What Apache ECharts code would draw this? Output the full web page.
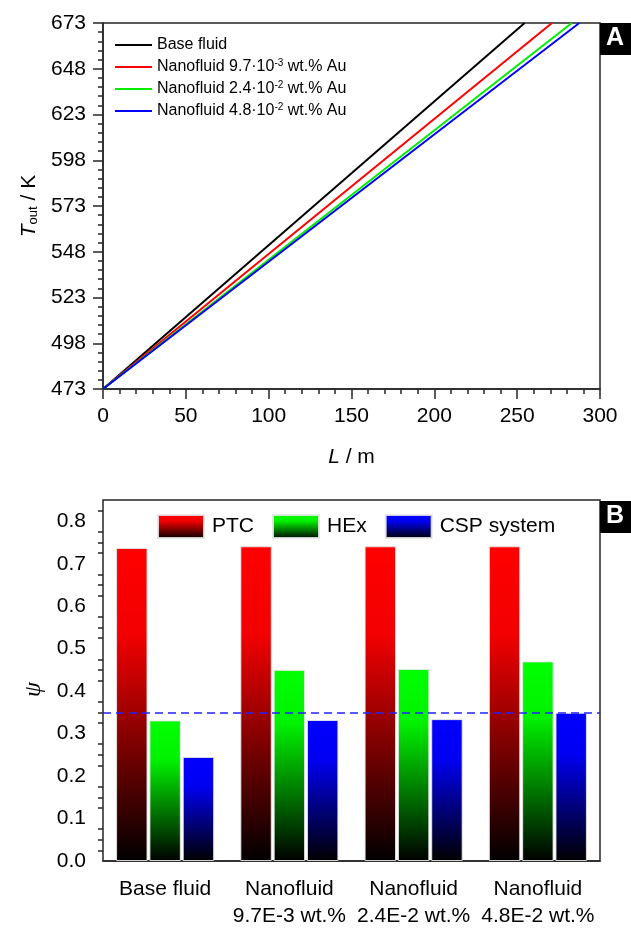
<!DOCTYPE html>
<html>
<head>
<meta charset="utf-8">
<script src="https://cdn.jsdelivr.net/npm/echarts@6/dist/echarts.min.js"></script>
<style>html,body{margin:0;padding:0;background:#fff;}#c{width:631px;height:930px;}</style>
</head>
<body>
<div id="c"></div>
<script>
// ---- Panel A data: outlet temperature vs length (straight lines, endpoints)
const lineNames = ['Base fluid', 'Nanofluid 9.7·10{sup|-3} wt.% Au', 'Nanofluid 2.4·10{sup|-2} wt.% Au', 'Nanofluid 4.8·10{sup|-2} wt.% Au'];
const lineColors = ['#000000', '#ff0000', '#00ee00', '#0000ff'];
const baseFluid = [[0, 473], [254.5, 673]];
const nano97e3 = [[0, 473], [271, 673]];
const nano24e2 = [[0, 473], [283, 673]];
const nano48e2 = [[0, 473], [287.5, 673]];
const yTicksA = { min: 473, max: 673, interval: 25 };
const xTicksA = { min: 0, max: 300, interval: 50 };

// ---- Panel B data: efficiency psi
const categories = ['Base fluid', 'Nanofluid\n9.7E-3 wt.%', 'Nanofluid\n2.4E-2 wt.%', 'Nanofluid\n4.8E-2 wt.%'];
const ptc = [0.737, 0.741, 0.741, 0.741];
const hex = [0.331, 0.450, 0.452, 0.470];
const csp = [0.245, 0.332, 0.334, 0.349];
const refLine = 0.351;
const barNames = ['PTC', 'HEx', 'CSP system'];
const barTop = ['#ff0000', '#00ff00', '#0000ff'];
const barMid = ['#f20000', '#00f200', '#0000f2'];

const font = 'Liberation Sans, Arial, sans-serif';
const axisCol = '#262626';

function grad(c, m) {
  return new echarts.graphic.LinearGradient(0, 0, 0, 1, [{offset: 0, color: c}, {offset: 0.28, color: m}, {offset: 1, color: '#000'}]);
}

const chart = echarts.init(document.getElementById('c'), null, {renderer: 'canvas'});
const lineData = [baseFluid, nano97e3, nano24e2, nano48e2];
const barData = [ptc, hex, csp];

const option = {
  animation: false,
  backgroundColor: '#fff',
  textStyle: {fontFamily: font},
  grid: [
    {left: 103, right: 31, top: 23, height: 366, show: true, borderColor: axisCol, borderWidth: 1.5, backgroundColor: 'transparent'},
    {left: 103, right: 31, top: 500, height: 367, show: true, borderColor: axisCol, borderWidth: 1.5, backgroundColor: 'transparent'}
  ],
  legend: [
    {
      data: lineNames, orient: 'vertical', left: 110, top: 32, itemGap: 5,
      icon: 'rect', itemWidth: 37, itemHeight: 2,
      textStyle: {fontSize: 16, color: '#000', fontFamily: font, rich: {sup: {fontSize: 10, verticalAlign: 'top', padding: [0, 0, 8, 0], color: '#000'}}}
    },
    {
      data: barNames, orient: 'horizontal', left: 152, top: 509, itemGap: 18,
      icon: 'rect', itemWidth: 46, itemHeight: 23,
      textStyle: {fontSize: 21, color: '#000', fontFamily: font, padding: [0, 0, 0, 3]}
    }
  ],
  xAxis: [
    {
      type: 'value', gridIndex: 0, min: xTicksA.min, max: xTicksA.max, interval: xTicksA.interval,
      name: '{i|L} / m', nameLocation: 'middle', nameGap: 58,
      nameTextStyle: {fontSize: 21, color: '#000', fontFamily: font, rich: {i: {fontStyle: 'italic', fontSize: 21, color: '#000'}}},
      axisLine: {lineStyle: {color: axisCol, width: 1.5}},
      axisTick: {length: 10, lineStyle: {color: axisCol, width: 1.5}},
      minorTick: {show: true, splitNumber: 5, length: 5, lineStyle: {color: axisCol, width: 1.5}},
      axisLabel: {fontSize: 21, color: '#000', margin: 17},
      splitLine: {show: false}
    },
    {
      type: 'category', gridIndex: 1, data: categories,
      axisLine: {lineStyle: {color: axisCol, width: 1.5}},
      axisTick: {alignWithLabel: true, length: 10, lineStyle: {color: axisCol, width: 1.5}},
      axisLabel: {fontSize: 21, color: '#000', margin: 15, lineHeight: 27, interval: 0},
      splitLine: {show: false}
    }
  ],
  yAxis: [
    {
      type: 'value', gridIndex: 0, min: yTicksA.min, max: yTicksA.max, interval: yTicksA.interval,
      name: '{i|T}{s|out} / K', nameLocation: 'middle', nameGap: 60, nameRotate: 90,
      nameTextStyle: {fontSize: 21, color: '#000', fontFamily: font, rich: {i: {fontStyle: 'italic', fontSize: 21, color: '#000'}, s: {fontSize: 13, verticalAlign: 'bottom', padding: [8, 0, 0, 0], color: '#000'}}},
      axisLine: {lineStyle: {color: axisCol, width: 1.5}},
      axisTick: {length: 10, lineStyle: {color: axisCol, width: 1.5}},
      minorTick: {show: true, splitNumber: 5, length: 5, lineStyle: {color: axisCol, width: 1.5}},
      axisLabel: {fontSize: 21, color: '#000', margin: 17},
      splitLine: {show: false}
    },
    {
      type: 'value', gridIndex: 1, min: 0, max: 0.85, interval: 0.1,
      name: 'ψ', nameLocation: 'middle', nameGap: 56, nameRotate: 90,
      nameTextStyle: {fontSize: 24, color: '#000', fontStyle: 'italic', fontFamily: 'Liberation Serif, serif', padding: [0, 18, 0, 0]},
      axisLine: {lineStyle: {color: axisCol, width: 1.5}},
      axisTick: {length: 10, lineStyle: {color: axisCol, width: 1.5}},
      minorTick: {show: true, splitNumber: 4, length: 5, lineStyle: {color: axisCol, width: 1.5}},
      axisLabel: {fontSize: 21, color: '#000', margin: 17, showMaxLabel: false, formatter: v => v.toFixed(1)},
      splitLine: {show: false}
    }
  ],
  series: [
    ...lineNames.map((n, i) => ({
      name: n, type: 'line', xAxisIndex: 0, yAxisIndex: 0, data: lineData[i],
      showSymbol: false, symbol: 'none', lineStyle: {color: lineColors[i], width: 2}, itemStyle: {color: lineColors[i]}
    })),
    ...barNames.map((n, i) => ({
      name: n, type: 'bar', xAxisIndex: 1, yAxisIndex: 1, data: barData[i],
      barWidth: '25.3%', barGap: '6%',
      itemStyle: {color: grad(barTop[i], barMid[i]), borderColor: 'rgba(230,230,230,0.9)', borderWidth: 1},
      markLine: i === 2 ? {
        silent: true, symbol: 'none', label: {show: false},
        lineStyle: {color: '#2222ff', type: [8, 5], width: 1.5},
        data: [{yAxis: refLine}]
      } : undefined
    }))
  ],
  graphic: [
    {type: 'rect', left: 600, top: 23, shape: {width: 31, height: 32}, style: {fill: '#000'}},
    {type: 'text', left: 606, top: 26, style: {text: 'A', fill: '#fff', font: 'bold 25px Liberation Sans, Arial'}},
    {type: 'rect', left: 600, top: 501, shape: {width: 31, height: 32}, style: {fill: '#000'}},
    {type: 'text', left: 606, top: 504, style: {text: 'B', fill: '#fff', font: 'bold 25px Liberation Sans, Arial'}}
  ]
};
chart.setOption(option);
</script>
</body>
</html>
